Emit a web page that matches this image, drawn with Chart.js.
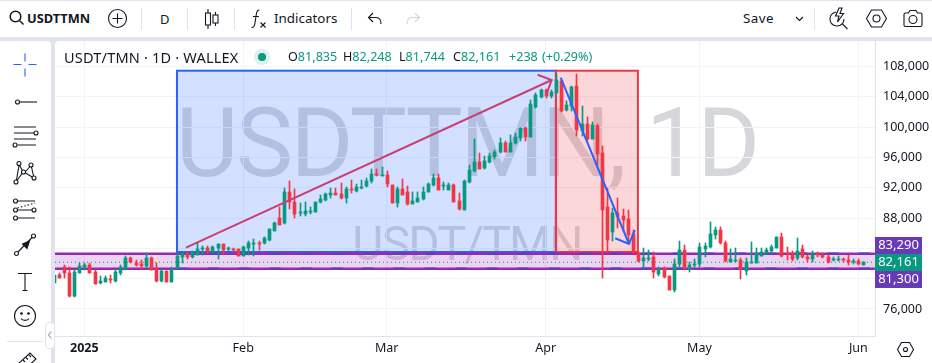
<!DOCTYPE html>
<html lang="en">
  <head>
    <meta charset="UTF-8" />
    <title>USDT/TMN 1D</title>
    <script src="https://cdn.jsdelivr.net/npm/chart.js@4"></script>
    <style>
      html, body { margin: 0; padding: 0; }
      body {
        width: 932px; height: 363px; overflow: hidden; position: relative;
        background: #e0e3eb; font-family: "Noto Sans", "Open Sans", sans-serif; color: #131722;
      }
      #top { position: absolute; left: 0; top: 1px; width: 932px; height: 36px; background: #fff; }
      #side { position: absolute; left: 0; top: 41px; width: 51px; height: 322px; background: #fff; border-radius: 0 4px 0 0; }
      #chartBox { position: absolute; left: 55px; top: 41px; width: 877px; height: 322px; background: #fff; border-radius: 4px 0 0 0; overflow: hidden; }
      canvas { display: block; }
      .t { position: absolute; white-space: nowrap; line-height: 18px; }
      .sep { position: absolute; width: 1px; background: #e0e3eb; top: 7px; height: 22px; }
      svg.i { position: absolute; overflow: visible; fill: none; stroke: #131722; stroke-width: 1.1; }
      #legend { position: absolute; left: 64px; top: 48px; height: 18px; z-index: 3; }
      #legend .n { color: #131722; font-size: 14.5px; letter-spacing: 0.2px; left: 0; top: 0; }
      #legend .v { font-size: 12.6px; top: 0; color: #131722; }
      #legend b { font-weight: 400; color: #089981; }
      #dot { position: absolute; left: 190px; top: 1px; width: 16px; height: 16px; border-radius: 50%; background: rgba(8,153,129,0.14); }
      #dot i { position: absolute; left: 4px; top: 4px; width: 8px; height: 8px; border-radius: 50%; background: #089981; }
    </style>
  </head>
  <body>
    <div id="top">
      <svg class="i" style="left:9px;top:9px" width="16" height="16" stroke-width="1.6"><circle cx="6.5" cy="6.5" r="5.3" stroke-width="1.5"/><path d="M10.5 10.5L14.5 14.5" stroke-width="1.5"/></svg>
      <div class="t" style="left:27px;top:8px;font-size:12.8px;font-weight:700">USDTTMN</div>
      <svg class="i" style="left:108px;top:8px" width="20" height="20"><circle cx="9.5" cy="9.5" r="9"/><path d="M9.5 4.5V14.5M4.5 9.5H14.5"/></svg>
      <div class="sep" style="left:141px"></div>
      <div class="t" style="left:160px;top:9px;font-size:13px">D</div>
      <div class="sep" style="left:187px"></div>
      <svg class="i" style="left:204px;top:8px" width="16" height="20"><path d="M4 0V20M11.5 3V17"/><rect x="1.5" y="4" width="5" height="12" fill="#fff"/><rect x="9" y="6" width="5" height="8" fill="#fff"/></svg>
      <div class="sep" style="left:234px"></div>
      <svg class="i" style="left:251px;top:8px" width="16" height="20"><path d="M8.5 1C6 1 5.5 3 5.2 6L3.8 15C3.4 17.5 2.5 18.5 0.5 18.5M2 7.5H8"/><path d="M9.5 13.5L14.5 18.5M14.5 13.5L9.5 18.5"/></svg>
      <div class="t" style="left:274px;top:8px;font-size:13.4px">Indicators</div>
      <div class="sep" style="left:351px"></div>
      <svg class="i" style="left:367px;top:11px" width="16" height="14"><path d="M6 1L1.5 5.5L6 10M1.5 5.5H9C12.5 5.5 14 8 14 12"/></svg>
      <svg class="i" style="left:405px;top:11px;stroke:#d1d4dc" width="16" height="14"><path d="M10 1L14.5 5.5L10 10M14.5 5.5H7C3.5 5.5 2 8 2 12"/></svg>
      <div class="t" style="left:743px;top:8px;font-size:13.4px;letter-spacing:0.45px">Save</div>
      <svg class="i" style="left:795px;top:15px" width="10" height="6"><path d="M1 1L4.5 4.5L8 1"/></svg>
      <div class="sep" style="left:814px"></div>
      <svg class="i" style="left:829px;top:6px" width="20" height="22"><path d="M7 5C3 6 1 9 1 12C1 16 4 19 8 19C12 19 15 16 15 12"/><path d="M10 1L6.5 9H10L8.5 15L14.5 6.5H11L13 1Z"/><path d="M13.5 17L18.5 22"/></svg>
      <svg class="i" style="left:866px;top:8px" width="21" height="20"><path d="M5.5 1H15.5L20.5 9.5L15.5 18H5.5L0.5 9.5Z"/><circle cx="10.5" cy="9.5" r="3.5"/></svg>
      <svg class="i" style="left:903px;top:9px" width="20" height="17"><path d="M1 4.5C1 3.5 1.5 3 2.5 3H5.5L7 0.5H13L14.5 3H17.5C18.5 3 19 3.5 19 4.5V15C19 16 18.5 16.5 17.5 16.5H2.5C1.5 16.5 1 16 1 15Z"/><circle cx="10" cy="9.5" r="4"/></svg>
    </div>
    <div id="side">
      <svg class="i" style="left:13px;top:12px;stroke:#2962ff" width="24" height="24" stroke-width="1.1"><path d="M0.5 11.5H8.5M15.5 11.5H23.5M12 0.5V8.5M12 15.5V23.5"/></svg>
      <svg class="i" style="left:14px;top:55px" width="24" height="12"><circle cx="3.5" cy="6" r="2"/><path d="M5.5 6H23"/></svg>
      <svg class="i" style="left:11px;top:81px" width="28" height="28"><path d="M3 5H25M3 11H23M3 17H25M6.500 23H25"/><circle cx="25" cy="11" r="2"/><circle cx="4" cy="23" r="2"/></svg>
      <svg class="i" style="left:14px;top:120px" width="26" height="26"><circle cx="5" cy="2.500" r="2"/><circle cx="17" cy="4" r="2"/><circle cx="2" cy="21" r="2"/><circle cx="9.500" cy="11" r="2"/><circle cx="20" cy="17" r="2"/><path d="M5 4.500L2.500 19M5.500 4.500L8.500 9.500M3 19.500L8 12.500M11.500 10.500L16 5.500M17.500 6L19.500 15M11.500 12L18.200 16"/></svg>
      <svg class="i" style="left:12px;top:157px" width="26" height="24"><circle cx="3.500" cy="3" r="2"/><circle cx="3.500" cy="12" r="2"/><circle cx="22" cy="12" r="2"/><circle cx="3.500" cy="20" r="2"/><path d="M5.500 3H23M5.500 12H20M5.500 20H23"/><path d="M5.500 10L23 5" stroke-dasharray="1.500 2"/></svg>
      <svg class="i" style="left:13px;top:192px" width="26" height="26"><circle cx="3.500" cy="20.500" r="2"/><circle cx="20.500" cy="3" r="2"/><path d="M5 19L19 4.500"/><path d="M9.500 11L16.500 8L14 15.500Z" fill="#131722"/></svg>
      <svg class="i" style="left:17px;top:231px" width="16" height="20"><path d="M1 1.500H15M8 1.500V18.500M5.500 18.500H10.500"/></svg>
      <svg class="i" style="left:14px;top:264px" width="22" height="22"><circle cx="11" cy="11" r="10.500"/><circle cx="7.500" cy="8.500" r="0.800" fill="#131722"/><circle cx="14.500" cy="8.500" r="0.800" fill="#131722"/><path d="M7 13.500C8.500 16 13.500 16 15 13.500"/></svg>
      <div style="position:absolute;left:7px;top:300px;width:36px;height:1px;background:#e0e3eb"></div>
      <svg class="i" style="left:17px;top:309px" width="22" height="16"><path d="M1 14L13 3L19 9L7 20Z"/><path d="M6 10L8 12M9 7.500L11 9.500M12 5L14 7"/></svg>
      <div style="position:absolute;left:45px;top:281px;width:8px;height:25px;background:#fff;border:1px solid #e0e3eb;border-radius:4px;z-index:4"></div>
      <svg class="i" style="left:47px;top:290px;stroke:#9598a1;z-index:5" width="6" height="8"><path d="M4.500 0.500L1.500 4L4.500 7.500"/></svg>
    </div>
    <div id="chartBox"><canvas id="chart" width="877" height="322"></canvas></div>
    <div id="legend">
      <div class="t n">USDT/TMN · 1D · WALLEX</div>
      <div id="dot"><i></i></div>
      <div class="t v" style="left:224px">O<b>81,835</b></div>
      <div class="t v" style="left:279px">H<b>82,248</b></div>
      <div class="t v" style="left:335px">L<b>81,744</b></div>
      <div class="t v" style="left:389px">C<b>82,161</b></div>
      <div class="t v" style="left:445px;word-spacing:1px"><b>+238 (+0.29%)</b></div>
    </div>
    <svg class="i" style="left:897px;top:342px;z-index:3" width="17" height="15"><path d="M4.500 0.500H12.500L16.500 7.500L12.500 14.500H4.500L0.500 7.500Z"/><circle cx="8.500" cy="7.500" r="2"/></svg>

    <script>
      // Day numbers count from 1 Jan 2025 = 0; the first candle is six days earlier
      const firstDay = -6;

      const opens = [
        79464, 80476, 81576, 80696, 77748, 80784,
        81488, 81796, 80916, 79464, 79552, 79948, 79684, 80696, 81268, 82764,
        82104, 81972, 81664, 82720, 81268, 79684, 81048, 79596, 81356, 82808,
        83248, 82808, 83116, 83864, 83996, 83468, 83996, 84568, 83864, 83952,
        83864, 82984, 84040, 84568, 84700, 84700, 85096, 86328, 88000, 87296,
        91476, 90156, 88616, 88528, 88836, 88836, 90068, 90376, 91036, 91300,
        91168, 90596, 91828, 91564, 91960, 92224, 92884, 93808, 93544, 93632,
        92356, 90024, 91828, 91432, 89848, 90112, 90508, 91432, 92356, 93280,
        92268, 91740, 92400, 90244, 89056, 92796, 94204, 95348, 94556, 95348,
        96052, 96756, 97900, 96712, 97900, 98604, 99836, 98736, 102696, 103972,
        104896, 104104, 104456, 106084, 102212, 102828, 105424, 99528, 100364, 98428,
        100144, 96536, 89408, 86196, 88616, 88264, 87868, 85844, 83336, 82368,
        82588, 82896, 80652, 81444, 80388, 78496, 81928, 83776, 81268, 81884,
        81884, 83952, 84128, 85712, 86416, 84744, 82236, 82368, 82456, 81048,
        82148, 82016, 83028, 83336, 83644, 83996, 85448, 83336, 83336, 82676,
        83864, 82808, 82588, 83292, 83160, 82808, 82500, 82500, 82544, 82456,
        82236, 82324, 81835,
      ];
      const closes = [
        80476, 80124, 80696, 77704, 80916, 81664,
        81796, 80784, 79332, 79728, 80124, 79816, 80916, 81576, 82764, 82148,
        81840, 81708, 82764, 81136, 79684, 81048, 79596, 81268, 82984, 83336,
        82808, 83556, 83908, 83996, 83468, 84128, 84568, 83776, 83996, 83820,
        82984, 84128, 84744, 84656, 84568, 85360, 86504, 87384, 87120, 91476,
        90156, 88528, 88748, 88924, 88968, 90156, 90508, 91168, 91344, 91036,
        90596, 91784, 91740, 92136, 92092, 92884, 93808, 93764, 93632, 92488,
        90024, 91872, 91080, 89848, 90244, 90640, 91432, 92488, 93280, 91696,
        92356, 92400, 90156, 89144, 92884, 94336, 95348, 94424, 95568, 96184,
        96756, 97944, 96756, 97900, 98692, 99836, 98736, 103048, 104236, 104896,
        104148, 104676, 106216, 102124, 102916, 105336, 99616, 100408, 98428, 100276,
        96448, 89056, 85096, 88660, 88088, 87736, 85756, 83336, 82324, 82720,
        82676, 80828, 81268, 80212, 78496, 81928, 83776, 81312, 81796, 81972,
        84172, 84304, 85888, 86416, 84656, 82324, 82544, 82456, 81224, 82236,
        82236, 83424, 83556, 83776, 84128, 85448, 83028, 83204, 82544, 83688,
        82896, 82632, 83204, 83204, 82808, 82148, 82588, 82588, 82456, 82148,
        82324, 81884, 82161,
      ];
      const highs = [
        80476, 80784, 81796, 81488, 81136, 82104,
        82104, 82016, 81136, 80344, 80300, 80476, 81224, 81796, 82984, 82808,
        82456, 82456, 83336, 82808, 82016, 81224, 81048, 81576, 83336, 83556,
        83556, 83688, 84876, 84304, 84304, 84304, 84568, 84568, 84172, 84040,
        83864, 84300, 85008, 85184, 84964, 85448, 86592, 87472, 89496, 91916,
        92884, 91828, 90024, 90156, 89408, 90156, 91036, 91344, 92004, 92004,
        92620, 92048, 93016, 92488, 93016, 93236, 94424, 94424, 94688, 94204,
        92356, 92048, 93148, 92224, 91388, 91388, 92048, 92576, 93808, 93808,
        92796, 92664, 92488, 91256, 92950, 94996, 98428, 96536, 96184, 96536,
        96976, 98516, 98208, 98956, 99176, 99924, 100056, 103576, 104456, 105028,
        105028, 104852, 106964, 106216, 103500, 105468, 107008, 102784, 101376, 100716,
        100364, 97504, 91916, 89276, 90596, 89144, 89056, 86416, 83556, 84084,
        83776, 83556, 81488, 81576, 80388, 82588, 84964, 84436, 82236, 82544,
        84656, 84656, 87428, 86768, 86856, 85008, 83864, 84084, 82676, 82676,
        84832, 84084, 83996, 84084, 84436, 85448, 85976, 84128, 83688, 85316,
        84436, 83116, 83688, 83556, 83424, 83116, 82808, 83028, 82676, 83116,
        82588, 82588, 82248,
      ];
      const lows = [
        79464, 80036, 80124, 77616, 77616, 80696,
        81136, 80784, 79332, 79288, 79552, 79464, 79596, 80476, 81136, 82016,
        81708, 81224, 81224, 81136, 79596, 79596, 79596, 79596, 81224, 82104,
        82544, 82676, 83116, 83116, 83336, 83336, 82588, 83248, 83600, 83556,
        82984, 82984, 83116, 83028, 83776, 84568, 85008, 86328, 87120, 87208,
        89188, 88000, 88264, 88264, 88528, 88836, 90024, 90288, 90684, 91036,
        90508, 90024, 91256, 91476, 91828, 92048, 92664, 93544, 93544, 92048,
        89936, 89496, 91080, 89716, 89804, 90112, 90376, 91432, 92224, 91696,
        91696, 91696, 90068, 89056, 89000, 92664, 94116, 94424, 94424, 95304,
        95744, 96624, 96756, 96712, 97768, 98208, 98208, 98736, 102564, 103884,
        103796, 103796, 104456, 102036, 102124, 102168, 98824, 98824, 98296, 98428,
        95000, 80036, 83556, 85008, 86636, 86284, 84876, 83336, 82236, 81356,
        82368, 80124, 80344, 80124, 78496, 78276, 81576, 81224, 80916, 81356,
        81576, 82896, 83996, 85184, 84524, 82236, 82148, 82236, 79948, 80476,
        82016, 82016, 82984, 83248, 83556, 83996, 82896, 82456, 82368, 82456,
        82676, 82236, 82236, 82896, 82676, 82016, 82324, 82368, 82148, 81796,
        81884, 81796, 81744,
      ];

      const priceTicks = [108000, 104000, 100000, 96000, 92000, 88000, 84000, 80000, 76000];
      const hiddenPriceLabels = [84000, 80000]; // sit behind the price tags
      const dayTicks = [0, 31, 59, 90, 120, 151];
      const dayLabels = ["2025", "Feb", "Mar", "Apr", "May", "Jun"];

      const upperLevel = 83290;
      const lowerLevel = 81300;
      const lastPrice = 82161;
      const levelDashStart = 18;

      // drawings: [start, end]
      const longBoxDays = [18.08, 92];
      const shortBoxDays = [92, 108];
      const boxPrices = [83515, 107430];
      const riseArrowDays = [19.84, 91.18];
      const riseArrowPrices = [84082, 106206];
      const fallArrowDays = [92.94, 106.26];
      const fallArrowPrices = [106509, 84570];

      const xMin = -5.716;
      const xMax = 154.25;
      const yMin = 72433;
      const yMax = 111351;

      const green = "#089981";
      const red = "#f23645";
      const purple = "#9c27b0";
      const deepPurple = "#673ab7";
      const blue = "#2962ff";
      const pink = "#c8406f";

      const days = opens.map((_, i) => firstDay + i);
      const candleColor = (ctx) =>
        closes[ctx.dataIndex] >= opens[ctx.dataIndex] ? green : red;
      const span = (xs, ys) => xs.map((x, i) => ({ x: x, y: ys[i] }));

      function lineSet(data, color, width, dash, order) {
        return {
          type: "line", data: data, borderColor: color, borderWidth: width,
          borderDash: dash, pointRadius: 0, order: order, tension: 0,
        };
      }

      // Watermark, boxes and band go under the candles, arrow heads and tags on top
      const drawings = {
        id: "drawings",
        beforeDraw(chart) {
          const { ctx, chartArea: a } = chart;
          const cx = (a.left + a.right) / 2;
          ctx.save();
          ctx.textAlign = "center";
          ctx.textBaseline = "alphabetic";
          ctx.fillStyle = "rgba(120,123,134,0.3)";
          ctx.font = '96px Roboto';
          ctx.letterSpacing = "-2.4px";
          ctx.fillText("USDTTMN, 1D", cx + 2, 135);
          ctx.font = '48px Roboto';
          ctx.letterSpacing = "-1.8px";
          ctx.fillText("USDT/TMN", cx + 2, 219);
          ctx.restore();
        },
        beforeDatasetsDraw(chart) {
          const { ctx, scales: { x, y }, chartArea: a } = chart;
          ctx.save();
          ctx.fillStyle = "rgba(156,39,176,0.2)";
          ctx.fillRect(a.left, y.getPixelForValue(upperLevel), a.width,
            y.getPixelForValue(lowerLevel) - y.getPixelForValue(upperLevel));
          [[longBoxDays, blue, "rgba(41,98,255,0.2)"], [shortBoxDays, red, "rgba(242,54,69,0.2)"]].forEach(([d, stroke, fill]) => {
            const l = x.getPixelForValue(d[0]);
            const r = x.getPixelForValue(d[1]);
            const t = y.getPixelForValue(boxPrices[1]);
            const b = y.getPixelForValue(boxPrices[0]);
            ctx.fillStyle = fill;
            ctx.fillRect(l, t, r - l, b - t);
            ctx.strokeStyle = stroke;
            ctx.lineWidth = 2;
            ctx.strokeRect(l, t, r - l, b - t);
          });
          ctx.restore();

          // snap candles to whole pixels
          chart.getSortedVisibleDatasetMetas().forEach((meta) => {
            if (meta.type !== "bar") return;
            meta.data.forEach((el) => {
              el.x = Math.round(el.x) + 0.5;
              el.y = Math.round(el.y);
              el.base = Math.round(el.base);
              if (el.y === el.base) el.base = el.y + 1;
            });
          });
        },
        afterDatasetsDraw(chart) {
          const { ctx, scales: { x, y } } = chart;
          const head = (xs, ys, color) => {
            const tx = x.getPixelForValue(xs[1]);
            const ty = y.getPixelForValue(ys[1]);
            const back = Math.atan2(y.getPixelForValue(ys[0]) - ty, x.getPixelForValue(xs[0]) - tx);
            ctx.beginPath();
            ctx.moveTo(tx + 15 * Math.cos(back - Math.PI / 4), ty + 15 * Math.sin(back - Math.PI / 4));
            ctx.lineTo(tx, ty);
            ctx.lineTo(tx + 15 * Math.cos(back + Math.PI / 4), ty + 15 * Math.sin(back + Math.PI / 4));
            ctx.strokeStyle = color;
            ctx.lineWidth = 2;
            ctx.stroke();
          };
          ctx.save();
          head(riseArrowDays, riseArrowPrices, pink);
          head(fallArrowDays, fallArrowPrices, blue);
          ctx.restore();
        },
        afterDraw(chart) {
          const { ctx, scales: { y } } = chart;
          const mid = y.getPixelForValue(lastPrice);
          const tags = [
            [upperLevel, mid - 17, deepPurple],
            [lastPrice, mid, green],
            [lowerLevel, mid + 17, deepPurple],
          ];
          ctx.save();
          ctx.font = '13px "Noto Sans"';
          ctx.textAlign = "center";
          ctx.textBaseline = "middle";
          tags.forEach(([value, cy, color]) => {
            ctx.fillStyle = color;
            ctx.fillRect(y.left, Math.round(cy - 8.5), 47, 17);
            ctx.fillStyle = "#fff";
            ctx.fillText(value.toLocaleString("en-US"), y.left + 23.5, cy + 0.5);
          });
          ctx.restore();
        },
      };

      new Chart(document.getElementById("chart"), {
        type: "bar",
        plugins: [drawings],
        data: {
          datasets: [
            lineSet(span([xMin, xMax], [upperLevel, upperLevel]), purple, 2.5, [], 6),
            lineSet(span([xMin, xMax], [lowerLevel, lowerLevel]), purple, 2.5, [], 6),
            lineSet(span([levelDashStart, xMax], [upperLevel, upperLevel]), deepPurple, 2.5, [11, 20], 5),
            lineSet(span([levelDashStart, xMax], [lowerLevel, lowerLevel]), deepPurple, 2.5, [11, 20], 5),
            lineSet(span([xMin, xMax], [lastPrice, lastPrice]), green, 1, [1, 3], 4),
            {
              data: days.map((d, i) => ({ x: d, y: [lows[i], highs[i]] })),
              backgroundColor: candleColor, barThickness: 1, grouped: false, order: 3,
            },
            {
              data: days.map((d, i) => ({ x: d, y: [opens[i], closes[i]] })),
              backgroundColor: candleColor, barThickness: 3, grouped: false, order: 2,
            },
            lineSet(span(riseArrowDays, riseArrowPrices), pink, 2, [], 0),
            lineSet(span(fallArrowDays, fallArrowPrices), blue, 2, [], 0),
          ],
        },
        options: {
          responsive: false,
          animation: false,
          events: [],
          layout: { padding: 0 },
          plugins: { legend: { display: false }, tooltip: { enabled: false } },
          scales: {
            x: {
              type: "linear",
              min: xMin,
              max: xMax,
              offset: false,
              grid: { offset: false, color: "#f0f3fa", drawTicks: false },
              border: { color: "#e0e3eb" },
              afterBuildTicks(axis) {
                axis.ticks = dayTicks.map((value) => ({ value }));
              },
              afterFit(axis) {
                axis.height = 27;
                axis.paddingLeft = 0;
                axis.paddingRight = 0;
              },
              ticks: {
                autoSkip: false,
                maxRotation: 0,
                padding: 5,
                color: "#131722",
                font: (ctx) => ({
                  family: '"Noto Sans"',
                  size: 12.5,
                  weight: ctx.index === 0 ? "700" : "400",
                }),
                callback: (value) => dayLabels[dayTicks.indexOf(value)],
              },
            },
            y: {
              position: "right",
              min: yMin,
              max: yMax,
              grid: { color: "#f0f3fa", drawTicks: false },
              border: { color: "#e0e3eb" },
              afterBuildTicks(axis) {
                axis.ticks = priceTicks.map((value) => ({ value }));
              },
              afterFit(axis) {
                axis.width = 57;
                axis.paddingTop = 0;
                axis.paddingBottom = 0;
              },
              ticks: {
                padding: 8,
                color: "#131722",
                font: { family: '"Noto Sans"', size: 12.5 },
                callback: (value) =>
                  hiddenPriceLabels.includes(value) ? "" : value.toLocaleString("en-US"),
              },
            },
          },
        },
      });
    </script>
  </body>
</html>
